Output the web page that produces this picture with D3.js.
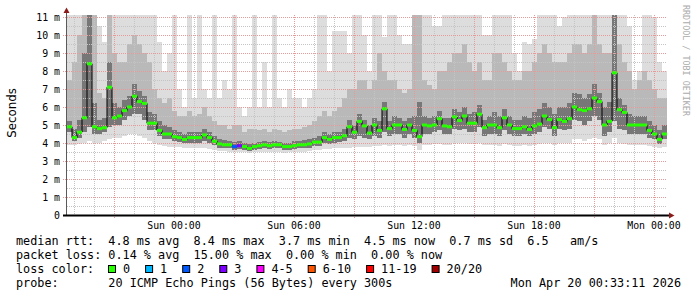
<!DOCTYPE html>
<html>
<head>
<meta charset="utf-8">
<script src="https://cdn.jsdelivr.net/npm/d3@7"></script>
<style>
  body { margin: 0; background: #fff; }
  svg { display: block; }
  text { font-family: "DejaVu Sans Mono", monospace; }
</style>
</head>
<body>
<div id="grafico"></div>
<script>
// Data: one value every 15 minutes, in ms
var median = [
  4.9,4.3,4.6,5.4,8.4,4.9,4.8,4.85,7.1,5.4,
  5.5,5.8,6.0,6.6,6.3,6.2,5.1,5.1,4.7,4.5,
  4.5,4.35,4.3,4.2,4.3,4.3,4.3,4.45,4.3,4.1,
  3.95,3.9,3.9,3.8,3.85,3.8,3.7,3.8,3.85,3.9,
  3.85,3.9,3.9,3.8,3.8,3.85,3.9,3.9,3.95,4.05,
  4.05,4.3,4.2,4.3,4.3,4.4,4.9,4.6,5.2,4.95,
  4.55,5.0,4.7,5.9,4.8,5.0,5.0,4.75,5.0,4.7,
  4.35,5.0,4.95,5.0,5.35,4.95,4.9,5.45,5.25,5.5,
  5.1,5.1,5.6,4.85,5.0,5.0,4.85,5.4,5.0,4.8,
  4.8,4.9,4.75,4.95,5.05,5.5,5.3,4.85,5.3,5.2,
  5.35,6.0,5.85,5.8,5.9,6.5,6.3,5.0,5.2,7.9,
  5.85,5.7,5.0,5.0,5.0,5.0,4.7,4.5,4.2,4.5
];
var smokeMin = [
  3.9,3.9,3.95,4.0,4.1,4.0,4.0,4.1,4.2,4.3,
  4.3,4.4,4.5,4.5,4.4,4.3,4.1,4.0,3.9,3.85,
  3.8,3.8,3.8,3.75,3.75,3.75,3.7,3.7,3.65,3.6,
  3.55,3.55,3.5,3.5,3.5,3.5,3.45,3.5,3.5,3.5,
  3.5,3.5,3.5,3.45,3.5,3.5,3.5,3.5,3.55,3.6,
  3.6,3.65,3.65,3.7,3.7,3.7,3.75,3.8,3.8,3.8,
  3.8,3.85,3.85,3.9,3.85,3.9,3.9,3.85,3.9,3.85,
  3.6,3.9,3.9,3.95,3.95,3.9,3.9,4.0,4.0,4.0,
  3.95,3.95,4.0,3.9,3.9,3.9,3.85,3.95,3.9,3.85,
  3.85,3.9,3.85,3.9,3.95,4.0,4.0,3.9,4.0,4.0,
  4.0,4.2,4.2,4.1,4.2,4.3,4.2,3.9,4.0,4.3,
  4.0,3.95,3.9,3.9,3.9,3.9,3.85,3.8,3.75,3.8
];
var smokeLo = [
  4.6,4.1,4.3,4.6,4.9,4.5,4.5,4.6,4.9,5.0,
  5.0,5.3,5.5,5.6,5.6,5.3,4.7,4.7,4.4,4.2,
  4.2,4.1,4.05,4.0,4.0,4.0,4.0,4.1,4.0,3.9,
  3.75,3.7,3.7,3.6,3.65,3.6,3.55,3.6,3.65,3.7,
  3.65,3.7,3.7,3.6,3.6,3.65,3.7,3.7,3.75,3.85,
  3.85,4.0,3.95,4.0,4.05,4.1,4.3,4.2,4.4,4.3,
  4.2,4.4,4.3,4.6,4.4,4.5,4.5,4.3,4.5,4.3,
  4.0,4.5,4.5,4.6,4.7,4.5,4.5,4.8,4.7,4.8,
  4.6,4.6,4.9,4.4,4.5,4.5,4.4,4.7,4.5,4.4,
  4.4,4.5,4.4,4.5,4.6,4.9,4.8,4.4,4.8,4.7,
  4.8,5.3,5.2,5.0,5.2,5.5,5.3,4.4,4.6,5.2,
  4.8,4.7,4.5,4.5,4.5,4.5,4.3,4.2,3.95,4.2
];
var smokeHiDark = [
  5.2,4.8,5.3,9.0,11.5,6.2,5.3,5.4,8.5,6.2,
  6.0,6.4,6.6,7.3,6.9,6.6,5.7,5.6,5.2,5.0,
  4.9,4.7,4.6,4.5,4.6,4.6,4.6,4.8,4.6,4.4,
  4.2,4.15,4.1,4.05,4.1,4.0,3.95,4.0,4.05,4.1,
  4.05,4.1,4.05,4.0,4.0,4.1,4.1,4.15,4.2,4.3,
  4.4,4.6,4.5,4.6,4.6,4.8,5.3,5.0,5.6,5.3,
  5.0,5.4,5.2,6.3,5.2,5.5,5.4,5.2,5.4,5.5,
  6.3,5.5,5.4,5.5,5.8,5.4,5.4,5.9,5.7,6.0,
  5.6,5.7,6.1,5.3,5.5,5.7,5.5,5.9,5.5,5.3,
  5.3,5.5,5.4,5.7,5.9,6.2,6.0,5.6,6.0,6.0,
  6.2,6.8,6.7,6.5,6.7,7.3,6.8,6.0,6.3,11.5,
  6.5,6.1,5.6,5.5,5.5,5.5,5.2,5.0,4.7,5.0
];
var smokeHiMid = [
  7.5,8.5,10,11.5,11.5,11.5,6.8,6.5,11.5,9.0,
  8.5,8.5,9.5,10,9.5,9.0,8.5,7.0,6.5,6.2,
  6.5,5.8,5.5,5.5,5.8,5.5,5.6,6.0,5.5,5.2,
  5.0,5.0,4.8,5.0,5.0,4.6,4.8,4.8,4.7,4.8,
  4.6,4.8,4.7,4.6,4.7,4.8,4.8,4.9,5.0,5.2,
  5.5,5.8,5.5,5.8,6.0,6.5,7.0,7.0,7.5,7.5,
  7.0,7.5,9.0,8.0,7.5,7.5,7.0,6.8,7.0,11.5,
  11.5,7.5,7.2,7.0,8.0,8.0,8.5,9.0,9.0,9.5,
  8.5,8.0,8.5,7.5,7.5,9.0,9.0,8.5,8.0,7.5,
  7.5,8.0,8.0,8.5,9.0,9.5,9.0,8.5,8.5,8.5,
  9.0,9.5,9.5,9.0,9.5,11.5,9.5,9.0,9.0,11.5,
  9.5,8.5,8.0,7.0,7.5,8.0,7.5,7.0,6.5,6.5
];
var smokeMax = [
  11.5,11.5,11.5,11.5,11.5,11.5,10.5,9.6,11.5,11.5,
  11.5,11.5,11.5,11.5,11.5,11.5,11.5,11.5,9.6,8.0,
  9.0,11.5,7.0,6.0,11.5,6.5,11.5,7.0,6.5,11.5,
  6.5,7.5,7.0,11.5,6.0,5.5,6.0,11.5,6.0,8.5,
  6.0,11.5,6.5,6.0,7.0,6.5,6.5,6.0,6.5,7.0,
  11.5,11.5,8.0,10.2,10.2,10.2,9.0,11.5,11.5,10.0,
  8.0,11.5,11.5,9.9,11.5,11.5,10.0,9.5,9.5,11.5,
  11.5,11.5,11.5,10.5,10.5,11.5,11.5,11.5,11.5,11.5,
  11.5,11.5,11.5,10.0,10.0,11.5,11.5,11.5,11.5,9.0,
  8.0,9.6,9.5,9.8,11.5,11.5,11.5,11.5,10.5,11.0,
  11.5,11.5,11.5,11.5,11.5,11.5,11.5,11.5,11.5,11.5,
  11.5,11.5,10.5,7.5,8.0,11.5,11.5,11.0,8.5,8.0
];
// lost pings (of 20) per point
var loss = [
  0,0,0,0,0,0,0,0,0,0, 0,0,0,0,0,0,0,0,0,0,
  0,0,0,0,0,0,0,0,0,0, 0,0,0,2,3,0,0,0,0,0,
  0,0,0,0,0,0,0,0,0,0, 0,0,0,0,0,0,0,0,0,0,
  0,0,0,0,0,0,0,0,0,0, 0,0,0,0,0,0,0,0,0,0,
  0,0,0,0,0,0,0,0,0,0, 0,0,0,0,0,0,0,0,0,0,
  0,0,0,0,0,0,0,0,0,0, 0,0,0,0,0,0,0,0,0,0
];
var lossLabels = ["0", "1", "2", "3", "4-5", "6-10", "11-19", "20/20"];
var lossColors = ["#26ff00", "#00b8ff", "#0059ff", "#7e00ff", "#ff00ff", "#ff5500", "#ff0000", "#a10000"];
var yTicks = [0, 1, 2, 3, 4, 5, 6, 7, 8, 9, 10, 11];
var statLines = [
  "median rtt:  4.8 ms avg  8.4 ms max  3.7 ms min  4.5 ms now  0.7 ms sd  6.5   am/s",
  "packet loss: 0.14 % avg  15.00 % max  0.00 % min  0.00 % now"
];
var probeText = "probe:       20 ICMP Echo Pings (56 Bytes) every 300s";
var stampText = "Mon Apr 20 00:33:11 2026";

var start = new Date(2026, 3, 18, 18, 39);
var end = d3.timeHour.offset(start, 30);
var times = d3.range(median.length + 1).map(function(i) { return d3.timeMinute.offset(start, 15 * i); });

var svg = d3.select("#grafico")
  .append("svg")
    .attr("width", 697)
    .attr("height", 297);

var x = d3.scaleTime().domain([start, end]).range([67, 667]);
var y = d3.scaleLinear().domain([0, 200 / 18]).range([215, 15]).clamp(true);

// Smoke
function band(lo, hi, color) {
  svg.append("g")
    .attr("shape-rendering", "crispEdges")
    .selectAll("rect")
    .data(median)
    .enter()
    .append("rect")
      .attr("x", function(d, i) { return x(times[i]); })
      .attr("width", function(d, i) { return x(times[i + 1]) - x(times[i]); })
      .attr("y", function(d, i) { return y(hi[i]); })
      .attr("height", function(d, i) { return y(lo[i]) - y(hi[i]); })
      .attr("fill", color);
}
band(smokeMin, smokeMax, "#dddddd");
band(smokeLo, smokeHiMid, "#b9b9b9");
band(smokeLo, smokeHiDark, "#777777");

// Grid
var grid = svg.append("g").attr("fill", "none").attr("stroke-dasharray", "1,1");
var hours = d3.timeHour.range(start, end);
grid.selectAll(".vmin")
  .data(hours.filter(function(t) { return t.getHours() % 3 !== 0; }))
  .enter().append("line")
    .attr("x1", function(d) { return Math.round(x(d)) + 0.5; })
    .attr("x2", function(d) { return Math.round(x(d)) + 0.5; })
    .attr("y1", 15).attr("y2", 215)
    .attr("stroke", "#c4c4c4");
grid.selectAll(".hmin")
  .data(d3.range(0.5, 11, 1))
  .enter().append("line")
    .attr("x1", 67).attr("x2", 667)
    .attr("y1", function(d) { return Math.round(y(d)) + 0.5; })
    .attr("y2", function(d) { return Math.round(y(d)) + 0.5; })
    .attr("stroke", "#c4c4c4");
grid.selectAll(".vmaj")
  .data(hours.filter(function(t) { return t.getHours() % 3 === 0; }))
  .enter().append("line")
    .attr("x1", function(d) { return Math.round(x(d)) + 0.5; })
    .attr("x2", function(d) { return Math.round(x(d)) + 0.5; })
    .attr("y1", 15).attr("y2", 219)
    .attr("stroke", "#e69a9a");
grid.selectAll(".hmaj")
  .data(yTicks.slice(1))
  .enter().append("line")
    .attr("x1", 63).attr("x2", 667)
    .attr("y1", function(d) { return Math.round(y(d)) + 0.5; })
    .attr("y2", function(d) { return Math.round(y(d)) + 0.5; })
    .attr("stroke", "#e69a9a");

// Median
var line = d3.line()
  .x(function(d, i) { return x(times[i]); })
  .y(function(d) { return y(d); })
  .curve(d3.curveStepAfter);
svg.append("path")
  .datum(median.concat([median[median.length - 1]]))
  .attr("fill", "none")
  .attr("stroke", "#000")
  .attr("stroke-width", 1)
  .attr("d", line);

function lossIndex(n) {
  if (n <= 3) return n;
  if (n <= 5) return 4;
  if (n <= 10) return 5;
  if (n <= 19) return 6;
  return 7;
}
svg.append("g")
  .selectAll("line")
  .data(median)
  .enter()
  .append("line")
    .attr("x1", function(d, i) { return x(times[i]); })
    .attr("x2", function(d, i) { return x(times[i + 1]); })
    .attr("y1", function(d) { return y(d); })
    .attr("y2", function(d) { return y(d); })
    .attr("stroke", function(d, i) { return lossColors[lossIndex(loss[i])]; })
    .attr("stroke-width", 3);

// Axes
svg.append("line")
  .attr("x1", 66.5).attr("x2", 66.5).attr("y1", 215).attr("y2", 11)
  .attr("stroke", "#5a5a5a");
svg.append("line")
  .attr("x1", 63).attr("x2", 670).attr("y1", 215.5).attr("y2", 215.5)
  .attr("stroke", "#000").attr("stroke-width", 2);
svg.append("path")
  .attr("d", "M63.5,13L69.5,13L66.5,7.5Z")
  .attr("fill", "#8b1c1c");
svg.append("path")
  .attr("d", "M669,212.5L669,218.5L674.5,215.5Z")
  .attr("fill", "#8b1c1c");

svg.append("g")
  .selectAll("text")
  .data(yTicks)
  .enter()
  .append("text")
    .attr("x", 60)
    .attr("y", function(d) { return y(d) + 3.5; })
    .attr("text-anchor", "end")
    .style("font-size", "9.9px")
    .text(function(d) { return d === 0 ? "0" : d + " m"; });

svg.append("g")
  .selectAll("text")
  .data(d3.timeHour.every(6).range(start, end))
  .enter()
  .append("text")
    .attr("x", function(d) { return x(d); })
    .attr("y", 228.5)
    .attr("text-anchor", "middle")
    .style("font-size", "9.9px")
    .text(d3.timeFormat("%a %H:%M"));

svg.append("text")
  .attr("transform", "translate(15.5,113) rotate(-90)")
  .attr("text-anchor", "middle")
  .style("font-family", "'DejaVu Sans', sans-serif")
  .style("font-size", "11.8px")
  .text("Seconds");

svg.append("text")
  .attr("transform", "translate(683,5) rotate(90)")
  .style("font-size", "8.4px")
  .style("fill", "#ababab")
  .text("RRDTOOL / TOBI OETIKER");

// Legend
svg.append("g")
  .selectAll("text")
  .data(statLines)
  .enter()
  .append("text")
    .attr("x", 16)
    .attr("y", function(d, i) { return 245 + 14 * i; })
    .style("font-size", "11.8px")
    .style("white-space", "pre")
    .text(function(d) { return d; });

svg.append("text")
  .attr("x", 16).attr("y", 273)
  .style("font-size", "11.8px")
  .text("loss color:");

var lx = 108;
lossLabels.forEach(function(lbl, i) {
  svg.append("rect")
    .attr("x", lx + 0.5).attr("y", 265.5)
    .attr("width", 7).attr("height", 7)
    .attr("fill", lossColors[i])
    .attr("stroke", "#000");
  svg.append("text")
    .attr("x", lx + 15).attr("y", 273)
    .style("font-size", "11.8px")
    .text(lbl);
  lx = lx + 15 + lbl.length * 7.1 + 15;
});

svg.append("text")
  .attr("x", 16).attr("y", 287)
  .style("font-size", "11.8px")
  .style("white-space", "pre")
  .text(probeText);
svg.append("text")
  .attr("x", 681).attr("y", 287)
  .attr("text-anchor", "end")
  .style("font-size", "11.8px")
  .text(stampText);
</script>
</body>
</html>
